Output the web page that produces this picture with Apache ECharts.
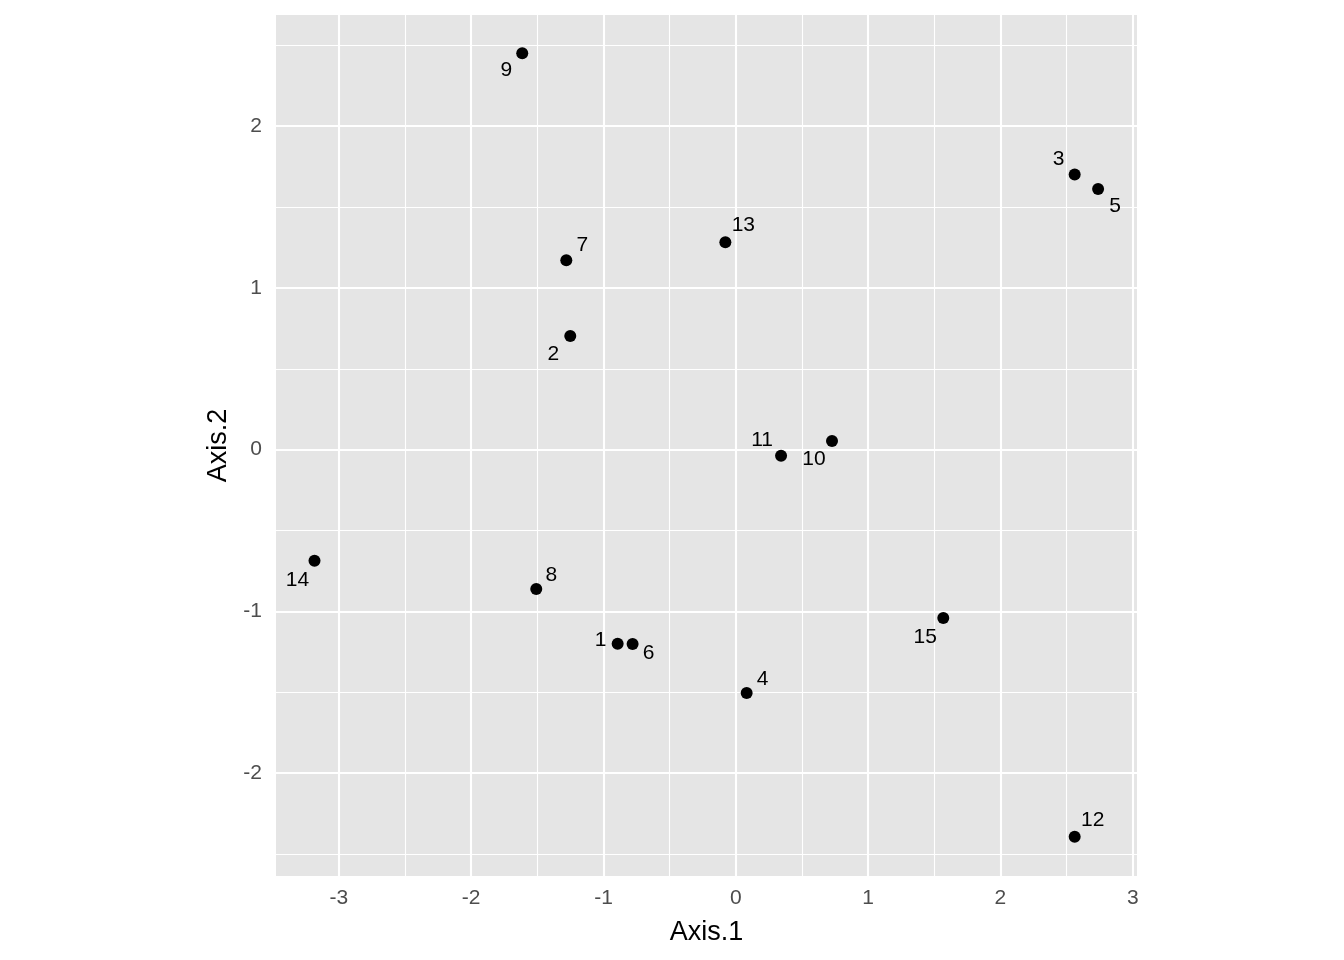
<!DOCTYPE html>
<html>
<head>
<meta charset="utf-8">
<script src="https://cdn.jsdelivr.net/npm/echarts@6/dist/echarts.min.js"></script>
<style>
html,body{margin:0;padding:0;background:#fff;}
#chart{width:1344px;height:960px;}
</style>
</head>
<body>
<div id="chart"></div>
<script>
// ---- data ----
var pointIds = ['1','2','3','4','5','6','7','8','9','10','11','12','13','14','15'];
var axis1 = [-0.893, -1.251, 2.561, 0.082, 2.738, -0.780, -1.281, -1.508, -1.614, 0.727, 0.342, 2.561, -0.079, -3.184, 1.568];
var axis2 = [-1.201, 0.702, 1.701, -1.505, 1.612, -1.202, 1.171, -0.862, 2.451, 0.054, -0.038, -2.394, 1.283, -0.687, -1.042];
var xTicks = [-3, -2, -1, 0, 1, 2, 3];
var yTicks = [-2, -1, 0, 1, 2];
var xMinor = [-3.5, -2.5, -1.5, -0.5, 0.5, 1.5, 2.5];
var yMinor = [-2.5, -1.5, -0.5, 0.5, 1.5, 2.5];

// ---- label placement (style, pixel offsets of each text label from its point) ----
var labelOffsets = [
  [-17, -4], [-17, 18], [-16, -15], [16, -14], [17, 17],
  [16, 9], [16, -15], [15, -14], [-16, 17], [-18, 18],
  [-19, -16], [18, -17], [18, -17], [-17, 19], [-18, 19]
];

var FONT = '"Liberation Sans", Arial, Helvetica, sans-serif';

var points = pointIds.map(function (id, i) {
  return {
    name: id,
    value: [axis1[i], axis2[i]],
    label: { offset: labelOffsets[i] }
  };
});

var gridLines = [];
xMinor.forEach(function (v) { gridLines.push({ xAxis: v, lineStyle: { width: 1.1 } }); });
yMinor.forEach(function (v) { gridLines.push({ yAxis: v, lineStyle: { width: 1.1 } }); });
xTicks.forEach(function (v) { gridLines.push({ xAxis: v, lineStyle: { width: 2.1 } }); });
yTicks.forEach(function (v) { gridLines.push({ yAxis: v, lineStyle: { width: 2.1 } }); });

var chart = echarts.init(document.getElementById('chart'), null, { renderer: 'canvas' });
chart.setOption({
  animation: false,
  backgroundColor: '#ffffff',
  textStyle: { fontFamily: FONT },
  grid: {
    left: 276, top: 15, right: 207, bottom: 84,
    show: true, backgroundColor: '#E5E5E5', borderWidth: 0,
    containLabel: false, outerBoundsMode: 'none'
  },
  xAxis: {
    type: 'value',
    min: -3.475, max: 3.032,
    name: 'Axis.1',
    nameLocation: 'middle',
    nameGap: 43,
    nameTextStyle: { color: '#000', fontSize: 27, fontFamily: FONT },
    axisLine: { show: false },
    axisTick: { show: true, length: 7, customValues: xTicks, lineStyle: { color: '#333333', width: 2 } },
    axisLabel: { customValues: xTicks, color: '#4D4D4D', fontSize: 21, margin: 12, fontFamily: FONT },
    splitLine: { show: false }
  },
  yAxis: {
    type: 'value',
    min: -2.637, max: 2.688,
    name: 'Axis.2',
    nameLocation: 'middle',
    nameGap: 32,
    nameRotate: 90,
    nameTextStyle: { color: '#000', fontSize: 27, fontFamily: FONT },
    axisLine: { show: false },
    axisTick: { show: true, length: 7, customValues: yTicks, lineStyle: { color: '#333333', width: 2 } },
    axisLabel: { customValues: yTicks, color: '#4D4D4D', fontSize: 21, margin: 14, fontFamily: FONT },
    splitLine: { show: false }
  },
  series: [
    {
      type: 'scatter',
      data: [],
      z: 1,
      silent: true,
      markLine: {
        silent: true,
        z: 1,
        symbol: ['none', 'none'],
        label: { show: false },
        lineStyle: { color: '#FFFFFF', type: 'solid', width: 2, opacity: 1 },
        emphasis: { disabled: true },
        animation: false,
        data: gridLines
      }
    },
    {
      type: 'scatter',
      z: 10,
      symbol: 'circle',
      symbolSize: 12,
      itemStyle: { color: '#000000', opacity: 1 },
      label: {
        show: true,
        position: 'inside',
        formatter: '{b}',
        color: '#000000',
        fontSize: 21,
        fontFamily: FONT,
        align: 'center',
        verticalAlign: 'middle'
      },
      data: points
    }
  ]
});
</script>
</body>
</html>
